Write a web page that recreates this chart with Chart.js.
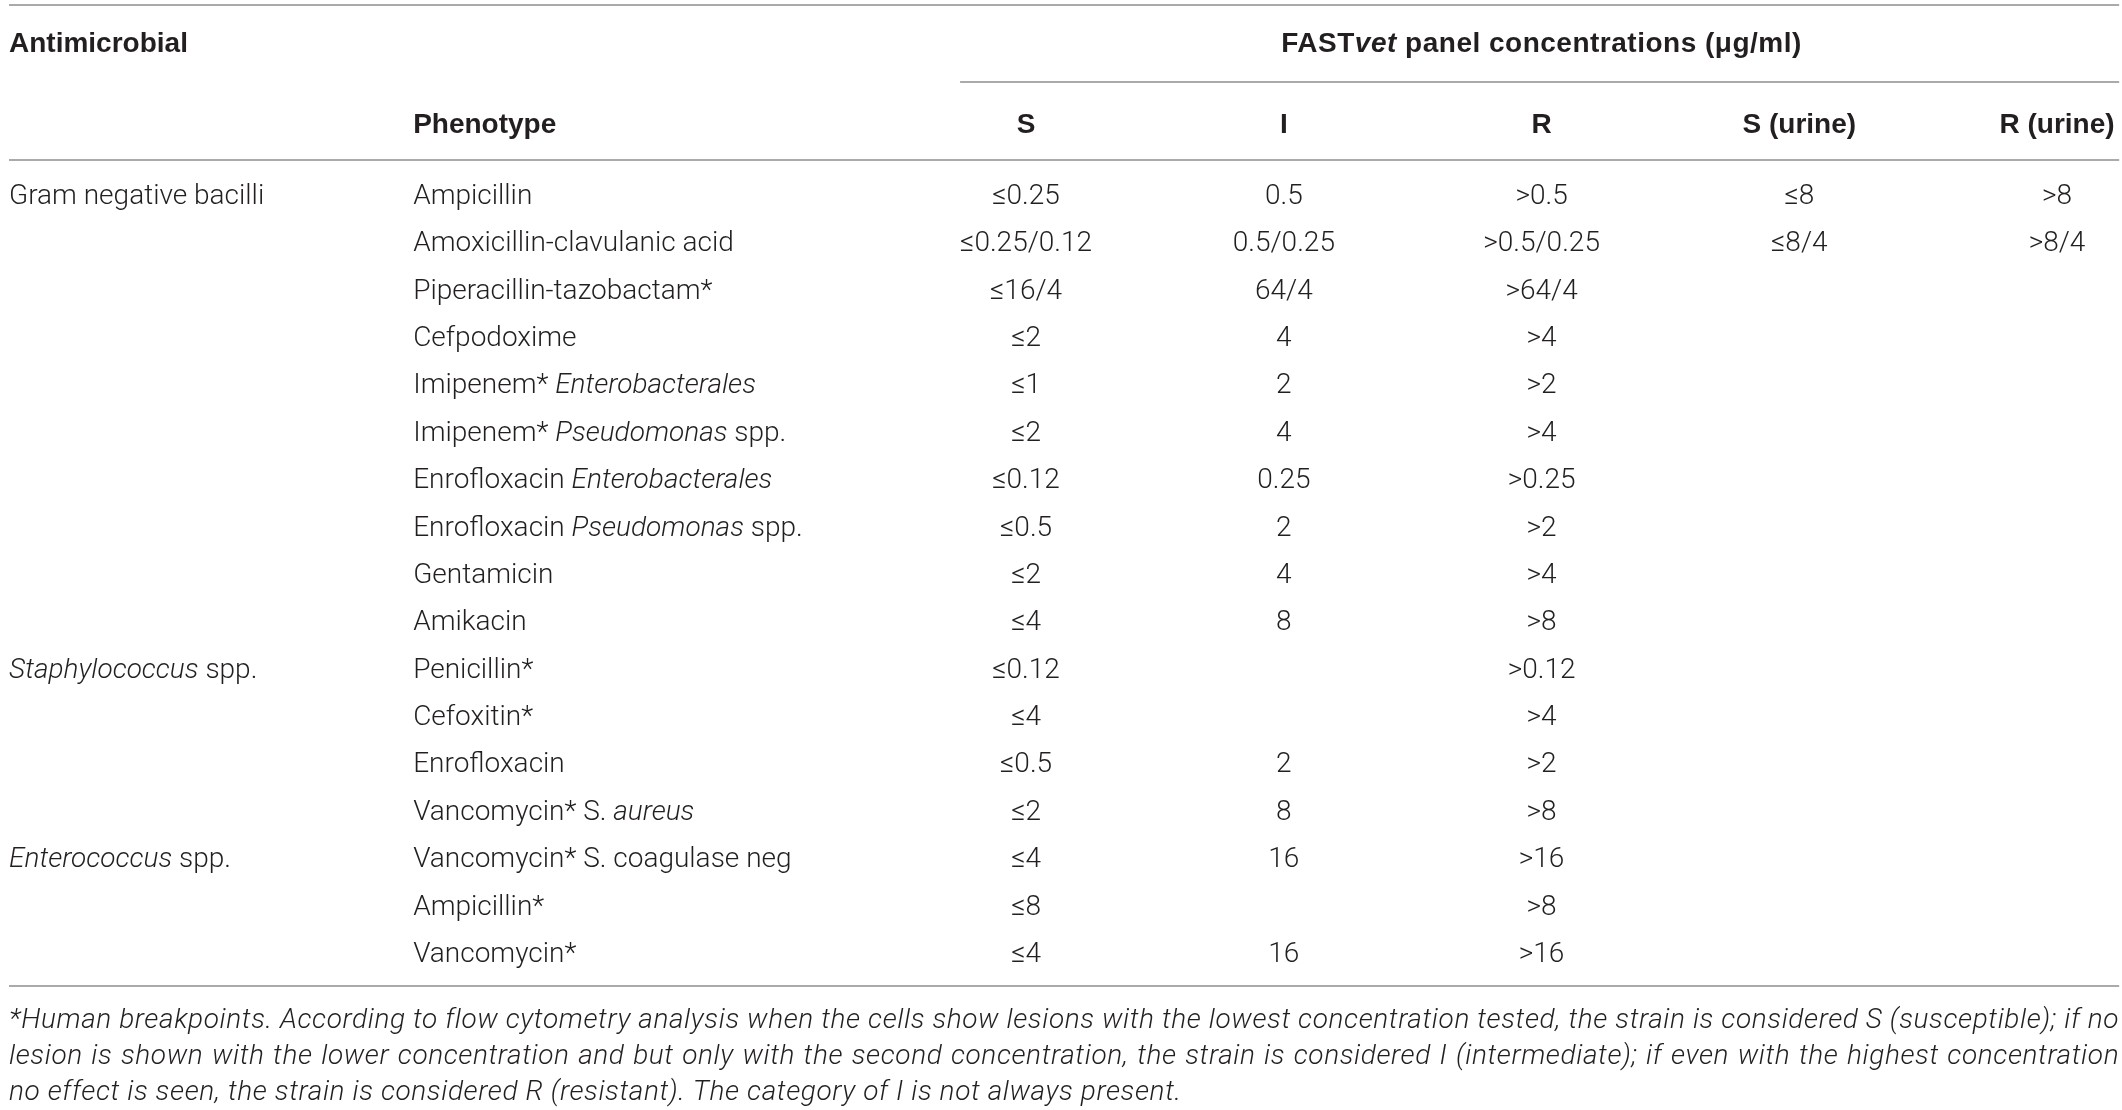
<!DOCTYPE html>
<html>
<head>
<meta charset="utf-8">
<script src="https://cdn.jsdelivr.net/npm/chart.js@4.4.1/dist/chart.umd.min.js"></script>
<style>
    html, body { margin: 0; padding: 0; background: #ffffff; }
    #wrap { width: 2122px; height: 1110px; position: relative; }
</style>
</head>
<body>
<div id="wrap"><canvas id="table"></canvas></div>
<script>
// Table content (text in _underscores_ is drawn italic)
const groupLabels = [
    'Gram negative bacilli', '', '', '', '', '', '', '', '', '',
    '_Staphylococcus_ spp.', '', '', '',
    '_Enterococcus_ spp.', '', ''
];
const phenotypes = [
    'Ampicillin',
    'Amoxicillin-clavulanic acid',
    'Piperacillin-tazobactam*',
    'Cefpodoxime',
    'Imipenem* _Enterobacterales_',
    'Imipenem* _Pseudomonas_ spp.',
    'Enrofloxacin _Enterobacterales_',
    'Enrofloxacin _Pseudomonas_ spp.',
    'Gentamicin',
    'Amikacin',
    'Penicillin*',
    'Cefoxitin*',
    'Enrofloxacin',
    'Vancomycin* S. _aureus_',
    'Vancomycin* S. coagulase neg',
    'Ampicillin*',
    'Vancomycin*'
];
const sValues = ['≤0.25', '≤0.25/0.12', '≤16/4', '≤2', '≤1', '≤2', '≤0.12', '≤0.5', '≤2', '≤4',
    '≤0.12', '≤4', '≤0.5', '≤2', '≤4', '≤8', '≤4'];
const iValues = ['0.5', '0.5/0.25', '64/4', '4', '2', '4', '0.25', '2', '4', '8',
    '', '', '2', '8', '16', '', '16'];
const rValues = ['>0.5', '>0.5/0.25', '>64/4', '>4', '>2', '>4', '>0.25', '>2', '>4', '>8',
    '>0.12', '>4', '>2', '>8', '>16', '>8', '>16'];
const sUrineValues = ['≤8', '≤8/4', '', '', '', '', '', '', '', '', '', '', '', '', '', '', ''];
const rUrineValues = ['>8', '>8/4', '', '', '', '', '', '', '', '', '', '', '', '', '', '', ''];
const columnHeaders = ['S', 'I', 'R', 'S (urine)', 'R (urine)'];
const groupHeader = 'Antimicrobial';
const phenotypeHeader = 'Phenotype';
const panelHeader = 'FAST_vet_ panel concentrations (μg/ml)';
const footnoteLines = [
    '*Human breakpoints. According to flow cytometry analysis when the cells show lesions with the lowest concentration tested, the strain is considered S (susceptible); if no',
    'lesion is shown with the lower concentration and but only with the second concentration, the strain is considered I (intermediate); if even with the highest concentration',
    'no effect is seen, the strain is considered R (resistant). The category of I is not always present.'
];

// Layout, in scale units (x: one unit per value column, y: one unit per body row)
const LAYOUT = {
    xMin: -3.981, xMax: 4.252,
    yMin: -4.116, yMax: 19.314,
    leftEdge: -3.946, rightEdge: 4.241,
    phenotypeX: -2.378, subRuleX: -0.256,
    topRule: -4.01, headRow1: -3.23, subRule: -2.385, headRow2: -1.52,
    headRule: -0.739, bottomRule: 16.697, footRows: [17.39, 18.15, 18.91]
};

const BODY_FAMILY = 'Roboto, "Helvetica Neue", "Liberation Sans", Arial, sans-serif';
const HEAD_FAMILY = '"Liberation Sans", Arial, Helvetica, sans-serif';
const BODY_SIZE = 28;
const HEAD_SIZE = 28;
const TEXT_COLOR = '#231f20';
const RULE_COLOR = '#8e8e8e';
const TEXT_SHIFT = 2;

/**
 * Split a label into plain / italic runs
 * @param {string} text - Label with _italic_ markers
 */
function parseRuns(text) {
    return text.split('_').map((part, i) => ({ text: part, italic: i % 2 === 1 }))
        .filter(run => run.text.length);
}

function fontFor(run, bold, italicAll) {
    const style = (run.italic || italicAll) ? 'italic ' : '';
    if (bold) return `${style}700 ${HEAD_SIZE}px ${HEAD_FAMILY}`;
    return `${style}300 ${BODY_SIZE}px ${BODY_FAMILY}`;
}

function runsWidth(ctx, runs, bold, italicAll) {
    return runs.reduce((sum, run) => {
        ctx.font = fontFor(run, bold, italicAll);
        return sum + ctx.measureText(run.text).width;
    }, 0);
}

/**
 * Draw a rich label
 * @param {string} align - left or center
 */
function drawLabel(ctx, text, x, y, align, bold, italicAll) {
    const runs = parseRuns(text);
    let start = x;
    if (align === 'center') start = x - runsWidth(ctx, runs, bold, italicAll) / 2;
    runs.forEach(run => {
        ctx.font = fontFor(run, bold, italicAll);
        ctx.fillText(run.text, start, y + TEXT_SHIFT);
        start += ctx.measureText(run.text).width;
    });
}

// Justified italic line between left and right
function drawJustified(ctx, text, left, right, y) {
    ctx.font = fontFor({ italic: true }, false, true);
    const words = text.split(' ');
    const total = words.reduce((s, w) => s + ctx.measureText(w).width, 0);
    const gap = (right - left - total) / (words.length - 1);
    let pos = left;
    words.forEach(w => {
        ctx.fillText(w, pos, y + TEXT_SHIFT);
        pos += ctx.measureText(w).width + gap;
    });
}

const tablePlugin = {
    id: 'tablePlugin',
    beforeDraw(chart) {
        const ctx = chart.ctx;
        ctx.save();
        ctx.fillStyle = '#ffffff';
        ctx.fillRect(0, 0, chart.width, chart.height);
        ctx.restore();
    },
    afterDraw(chart) {
        const ctx = chart.ctx;
        const x = chart.scales.x;
        const y = chart.scales.y;
        const px = v => x.getPixelForValue(v);
        const py = v => y.getPixelForValue(v);

        ctx.save();

        // Rules
        ctx.strokeStyle = RULE_COLOR;
        ctx.lineWidth = 1.6;
        const rule = (x0, x1, yv) => {
            ctx.beginPath();
            ctx.moveTo(px(x0), py(yv));
            ctx.lineTo(px(x1), py(yv));
            ctx.stroke();
        };
        rule(LAYOUT.leftEdge, LAYOUT.rightEdge, LAYOUT.topRule);
        rule(LAYOUT.subRuleX, LAYOUT.rightEdge, LAYOUT.subRule);
        rule(LAYOUT.leftEdge, LAYOUT.rightEdge, LAYOUT.headRule);
        rule(LAYOUT.leftEdge, LAYOUT.rightEdge, LAYOUT.bottomRule);

        ctx.fillStyle = TEXT_COLOR;
        ctx.textBaseline = 'middle';
        ctx.textAlign = 'left';

        // Headers
        drawLabel(ctx, groupHeader, px(LAYOUT.leftEdge), py(LAYOUT.headRow1), 'left', true);
        ctx.letterSpacing = '0.5px';
        drawLabel(ctx, panelHeader, px((columnHeaders.length - 1) / 2), py(LAYOUT.headRow1), 'center', true);
        ctx.letterSpacing = '0px';
        drawLabel(ctx, phenotypeHeader, px(LAYOUT.phenotypeX), py(LAYOUT.headRow2), 'left', true);
        columnHeaders.forEach((h, c) => {
            let cx = px(c);
            if (c === columnHeaders.length - 1) {
                // last header is flush with the right edge
                const w = runsWidth(ctx, parseRuns(h), true);
                cx = Math.min(cx, px(LAYOUT.rightEdge) - w / 2);
            }
            drawLabel(ctx, h, cx, py(LAYOUT.headRow2), 'center', true);
        });

        // Body
        const valueColumns = [sValues, iValues, rValues, sUrineValues, rUrineValues];
        phenotypes.forEach((name, r) => {
            const ry = py(r);
            if (groupLabels[r]) drawLabel(ctx, groupLabels[r], px(LAYOUT.leftEdge), ry, 'left', false);
            drawLabel(ctx, name, px(LAYOUT.phenotypeX), ry, 'left', false);
            valueColumns.forEach((col, c) => {
                if (col[r]) drawLabel(ctx, col[r], px(c), ry, 'center', false);
            });
        });

        // Footnote
        ctx.letterSpacing = '0.6px';
        footnoteLines.forEach((line, i) => {
            const fy = py(LAYOUT.footRows[i]);
            if (i < footnoteLines.length - 1) {
                drawJustified(ctx, line, px(LAYOUT.leftEdge), px(LAYOUT.rightEdge), fy);
            } else {
                drawLabel(ctx, line, px(LAYOUT.leftEdge), fy, 'left', false, true);
            }
        });

        ctx.restore();
    }
};

new Chart(document.getElementById('table'), {
    type: 'scatter',
    data: { datasets: [] },
    options: {
        responsive: true,
        maintainAspectRatio: false,
        animation: false,
        layout: { padding: 0 },
        plugins: {
            legend: { display: false },
            tooltip: { enabled: false }
        },
        scales: {
            x: { type: 'linear', min: LAYOUT.xMin, max: LAYOUT.xMax, display: false },
            y: { type: 'linear', min: LAYOUT.yMin, max: LAYOUT.yMax, reverse: true, display: false }
        }
    },
    plugins: [tablePlugin]
});
</script>
</body>
</html>
